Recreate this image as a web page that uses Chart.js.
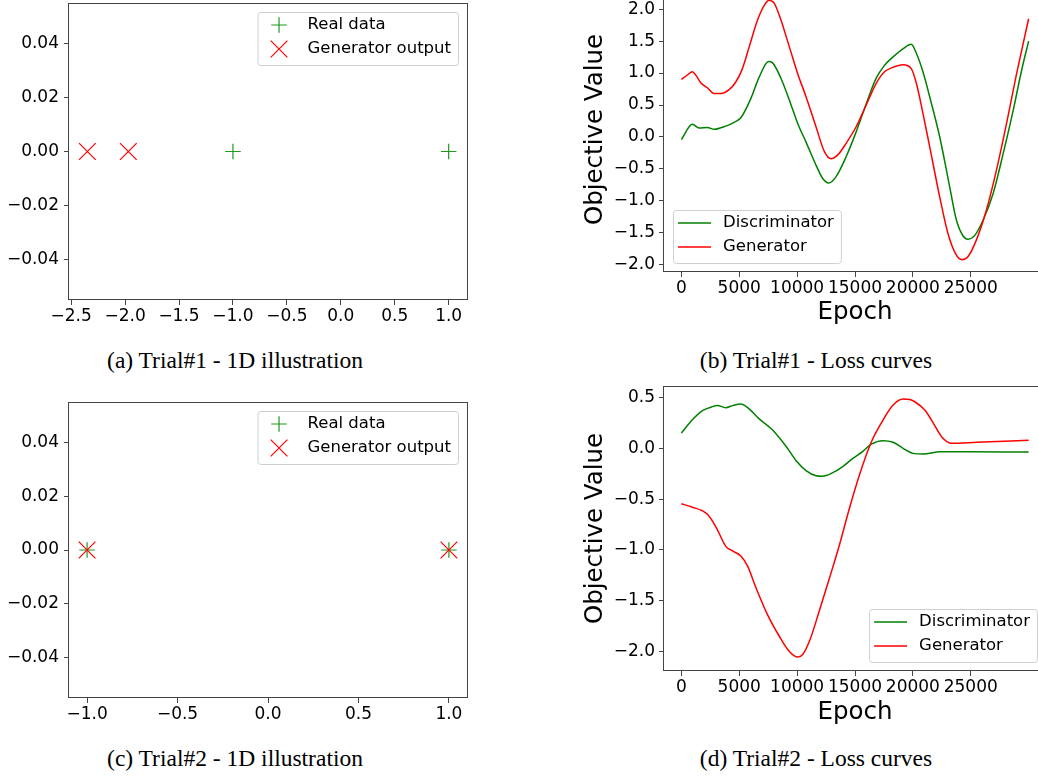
<!DOCTYPE html>
<html>
<head>
<meta charset="utf-8">
<script src="https://cdn.jsdelivr.net/npm/chart.js@4.4.1/dist/chart.umd.min.js"></script>
<style>
  html, body { margin: 0; padding: 0; background: #fff; }
  body { width: 1038px; height: 778px; position: relative; overflow: hidden; }
  canvas { position: absolute; }
  .caption {
    position: absolute;
    font-family: "Liberation Serif", "Times New Roman", serif;
    font-size: 23.5px;
    line-height: 24px;
    white-space: nowrap;
    transform: translateX(-50%);
    color: #000;
  }
</style>
</head>
<body>
<canvas id="chartA" width="470" height="335" style="left:0px;top:0px"></canvas>
<canvas id="chartB" width="469" height="344" style="left:577px;top:-13px"></canvas>
<canvas id="chartC" width="470" height="334" style="left:0px;top:399px"></canvas>
<canvas id="chartD" width="469" height="345" style="left:577px;top:386px"></canvas>

<div class="caption" style="left:235px;top:348px">(a) Trial#1 - 1D illustration</div>
<div class="caption" style="left:816px;top:348px">(b) Trial#1 - Loss curves</div>
<div class="caption" style="left:235px;top:746px">(c) Trial#2 - 1D illustration</div>
<div class="caption" style="left:816px;top:746px">(d) Trial#2 - Loss curves</div>

<script>
// --- 1D illustrations ---
const realX1 = [-1, 1];
const genX1 = [-2.35, -1.97];
const realX2 = [-1, 1];
const genX2 = [-1, 1];
const ticksX1 = [-2.5, -2, -1.5, -1, -0.5, 0, 0.5, 1];
const ticksX2 = [-1, -0.5, 0, 0.5, 1];
const ticksY1D = [-0.04, -0.02, 0, 0.02, 0.04];

// --- loss curves, trial 1 ---
const discEpochs1 = [0, 950, 1530, 2250, 2830, 3840, 4560, 5140, 6000, 6730, 7535, 7880, 8600, 9325,
  10050, 10770, 11630, 12210, 12730, 13370, 14230, 15100, 15970, 16830, 17550, 18270, 19140, 19860,
  20300, 20870, 21450, 22320, 23180, 23760, 24340, 24770, 25350, 26070, 26940, 27800, 28670, 29390, 30000];
const discLoss1 = [-0.04, 0.20, 0.14, 0.15, 0.12, 0.17, 0.23, 0.30, 0.60, 0.94, 1.18, 1.16, 0.92, 0.58,
  0.21, -0.08, -0.44, -0.65, -0.72, -0.62, -0.31, 0.08, 0.52, 0.92, 1.12, 1.25, 1.38, 1.45,
  1.31, 1.02, 0.63, 0.0, -0.78, -1.30, -1.55, -1.60, -1.54, -1.30, -0.88, -0.26, 0.42, 1.04, 1.50];
const genEpochs1 = [0, 520, 950, 1240, 1670, 2250, 2830, 3410, 4130, 4700, 5230, 5860, 6580, 7160, 7590,
  8030, 8600, 9330, 10050, 10770, 11630, 12360, 12930, 13510, 14230, 15100, 15970, 16830, 17550, 18270,
  19140, 19860, 20300, 20870, 21450, 22320, 23030, 23760, 24250, 24770, 25490, 26360, 27220, 28090, 28960, 30000];
const genLoss1 = [0.90, 0.97, 1.02, 0.97, 0.85, 0.77, 0.68, 0.68, 0.74, 0.86, 1.05, 1.41, 1.83, 2.06, 2.14,
  2.09, 1.83, 1.41, 0.99, 0.63, 0.16, -0.23, -0.34, -0.28, -0.10, 0.16, 0.50, 0.84, 1.02, 1.09,
  1.13, 1.07, 0.84, 0.37, -0.15, -0.94, -1.51, -1.85, -1.92, -1.87, -1.61, -1.14, -0.52, 0.21, 0.99, 1.85];

// --- loss curves, trial 2 ---
const discEpochs2 = [0, 950, 1820, 2680, 3120, 3840, 4420, 5140, 5720, 6730, 7880, 9040, 9900, 10770,
  11630, 12210, 13080, 13940, 14810, 15685, 16410, 17420, 18290, 19150, 20020, 20890, 22330, 25000, 30000];
const discLoss2 = [0.15, 0.28, 0.37, 0.41, 0.42, 0.40, 0.42, 0.435, 0.40, 0.29, 0.18, 0.02, -0.12, -0.22,
  -0.27, -0.275, -0.24, -0.18, -0.10, -0.03, 0.04, 0.075, 0.06, 0.0, -0.05, -0.056, -0.035, -0.035, -0.036];
const genEpochs2 = [0, 950, 1820, 2250, 2970, 3840, 4420, 5140, 5720, 6440, 7450, 8460, 9330, 10050,
  10480, 11060, 11920, 12790, 13660, 14520, 15390, 16400, 17420, 18290, 19150, 19730, 20160, 21030,
  21610, 22480, 23350, 25510, 30000];
const genLoss2 = [-0.546, -0.58, -0.615, -0.65, -0.77, -0.965, -1.01, -1.06, -1.16, -1.37, -1.64, -1.85,
  -2.0, -2.055, -2.03, -1.90, -1.60, -1.28, -0.95, -0.59, -0.26, 0.06, 0.278, 0.425, 0.484, 0.48, 0.458,
  0.376, 0.278, 0.114, 0.049, 0.059, 0.08];

const epochTicks = [0, 5000, 10000, 15000, 20000, 25000];
const lossTicks1 = [-2, -1.5, -1, -0.5, 0, 0.5, 1, 1.5, 2];
const lossTicks2 = [-2, -1.5, -1, -0.5, 0, 0.5];

Chart.defaults.font.family = '"DejaVu Sans", sans-serif';
Chart.defaults.color = '#000';

const GREEN = '#008000';
const MARK_GREEN = '#1f9a1f';
const RED = '#ff0000';

const pts = (xs, ys) => xs.map((x, i) => ({ x: x, y: ys[i] }));
const fmt = (v, d) => v.toFixed(d).replace('-', '\u2212');

// full box round the plot area
const frame = {
  id: 'frame',
  afterDatasetsDraw(chart) {
    const a = chart.chartArea;
    const ctx = chart.ctx;
    ctx.save();
    ctx.strokeStyle = '#444';
    ctx.lineWidth = 1;
    ctx.strokeRect(Math.round(a.left) - 0.5, Math.round(a.top) + 0.5,
      Math.round(a.right - a.left) + 1, Math.round(a.bottom - a.top) - 1);
    ctx.restore();
  }
};

// matplotlib-like legend box drawn inside the plot area
const boxLegend = {
  id: 'boxLegend',
  afterDraw(chart, args, opts) {
    const { ctx, chartArea } = chart;
    const sets = chart.data.datasets;
    ctx.save();
    ctx.font = '16.5px "DejaVu Sans"';
    const textW = Math.max(...sets.map(d => ctx.measureText(d.label).width));
    const w = 5 + 33 + 12 + textW + 7;
    const h = 53;
    const x = opts.corner.includes('right') ? chartArea.right - 9 - w : chartArea.left + 9;
    const y = opts.corner.includes('top') ? chartArea.top + 9 : chartArea.bottom - 9 - h;
    ctx.beginPath();
    ctx.roundRect(x + 0.5, y + 0.5, w, h, 3);
    ctx.fillStyle = 'rgba(255,255,255,0.8)';
    ctx.fill();
    ctx.strokeStyle = '#cfcfcf';
    ctx.lineWidth = 1;
    ctx.stroke();
    sets.forEach((d, i) => {
      const cy = y + 13 + i * 24;
      ctx.strokeStyle = d.borderColor;
      if (chart.config.type === 'scatter') {
        ctx.lineWidth = d.pointBorderWidth;
        Chart.helpers.drawPoint(ctx, {
          pointStyle: d.pointStyle, radius: d.pointRadius, borderWidth: d.pointBorderWidth, rotation: 0
        }, x + 5 + 16.5, cy);
      } else {
        ctx.lineWidth = d.borderWidth;
        ctx.beginPath();
        ctx.moveTo(x + 5, cy);
        ctx.lineTo(x + 38, cy);
        ctx.stroke();
      }
      ctx.fillStyle = '#000';
      ctx.textBaseline = 'middle';
      ctx.textAlign = 'left';
      ctx.fillText(d.label, x + 50, cy);
    });
    ctx.restore();
  }
};

function axis(cfg) {
  return {
    type: 'linear',
    position: cfg.position,
    min: cfg.min,
    max: cfg.max,
    afterBuildTicks: s => { s.ticks = cfg.ticks.map(v => ({ value: v })); },
    afterFit: s => {
      if (cfg.position === 'bottom') s.height = cfg.size; else s.width = cfg.size;
      // no extra room for labels hanging over the ends
      s.paddingTop = 0; s.paddingBottom = 0; s.paddingLeft = 0; s.paddingRight = 0;
    },
    grid: { display: true, drawOnChartArea: false, drawTicks: true, tickLength: 5, tickWidth: 1, tickColor: '#444' },
    border: { display: false },
    ticks: {
      padding: cfg.pad,
      color: '#000',
      font: { size: 17 },
      autoSkip: false,
      maxRotation: 0,
      minRotation: 0,
      callback: v => fmt(v, cfg.dec)
    },
    title: cfg.title ? {
      display: true, text: cfg.title, color: '#000',
      font: { size: 24.5 }, padding: { top: 4, bottom: 4 }
    } : { display: false }
  };
}

function scatterChart(id, realX, genX, xMin, xMax, xTicks, padTop) {
  return new Chart(document.getElementById(id), {
    type: 'scatter',
    data: {
      datasets: [
        {
          label: 'Real data', data: pts(realX, realX.map(() => 0)),
          pointStyle: 'cross', pointRadius: 7.8, pointBorderWidth: 1.2,
          borderColor: MARK_GREEN, pointBorderColor: MARK_GREEN, order: 1
        },
        {
          label: 'Generator output', data: pts(genX, genX.map(() => 0)),
          pointStyle: 'crossRot', pointRadius: 11.8, pointBorderWidth: 1.2,
          borderColor: RED, pointBorderColor: RED, order: 0
        }
      ]
    },
    options: {
      responsive: false,
      animation: false,
      layout: { autoPadding: false, padding: { top: padTop, right: 3, left: 0, bottom: 0 } },
      plugins: { legend: { display: false }, tooltip: { enabled: false }, boxLegend: { corner: 'top-right' } },
      scales: {
        x: axis({ position: 'bottom', min: xMin, max: xMax, ticks: xTicks, size: 35, pad: 1, dec: 1 }),
        y: axis({ position: 'left', min: -0.055, max: 0.055, ticks: ticksY1D, size: 69, pad: 5, dec: 2 })
      }
    },
    plugins: [frame, boxLegend]
  });
}

function lossChart(id, dE, dL, gE, gL, yMin, yMax, yTicks, xSize, corner) {
  return new Chart(document.getElementById(id), {
    type: 'line',
    data: {
      datasets: [
        {
          label: 'Discriminator', data: pts(dE, dL), borderColor: GREEN, borderWidth: 1.5,
          pointRadius: 0, cubicInterpolationMode: 'monotone', fill: false, order: 1
        },
        {
          label: 'Generator', data: pts(gE, gL), borderColor: RED, borderWidth: 1.5,
          pointRadius: 0, cubicInterpolationMode: 'monotone', fill: false, order: 0
        }
      ]
    },
    options: {
      responsive: false,
      animation: false,
      layout: { autoPadding: false, padding: 0 },
      plugins: { legend: { display: false }, tooltip: { enabled: false }, boxLegend: { corner: corner } },
      scales: {
        x: axis({ position: 'bottom', min: -1500, max: 31500, ticks: epochTicks, size: xSize, pad: 1, dec: 0, title: 'Epoch' }),
        y: axis({ position: 'left', min: yMin, max: yMax, ticks: yTicks, size: 87, pad: 4, dec: 1, title: 'Objective Value' })
      }
    },
    plugins: [frame, boxLegend]
  });
}

scatterChart('chartA', realX1, genX1, -2.52, 1.17, ticksX1, 3);
scatterChart('chartC', realX2, genX2, -1.1, 1.1, ticksX2, 3);
lossChart('chartB', discEpochs1, discLoss1, genEpochs1, genLoss1, -2.113, 2.347, lossTicks1, 59, 'bottom-left');
lossChart('chartD', discEpochs2, discLoss2, genEpochs2, genLoss2, -2.192, 0.613, lossTicks2, 60, 'bottom-right');
</script>
</body>
</html>
